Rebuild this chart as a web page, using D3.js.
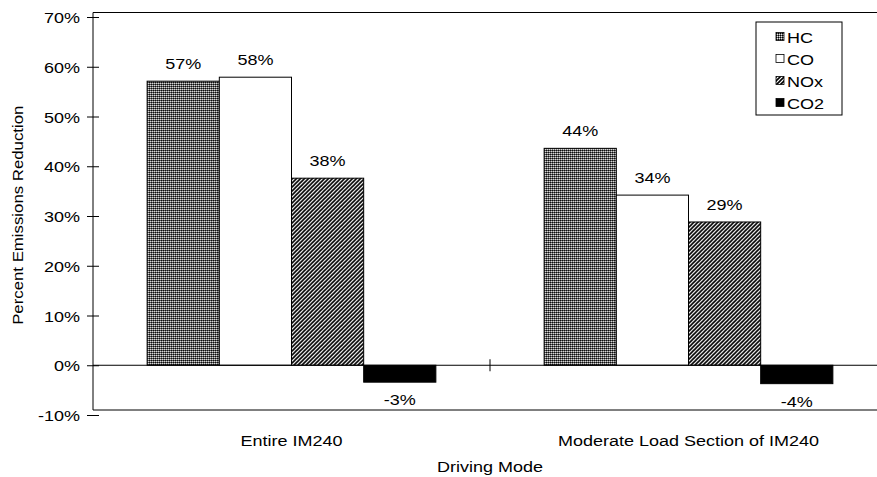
<!DOCTYPE html>
<html>
<head>
<meta charset="utf-8">
<script src="https://cdn.jsdelivr.net/npm/d3@7"></script>
<style>
  html, body { margin: 0; padding: 0; background: #fff; }
  svg { display: block; font-family: "Liberation Sans", Arial, sans-serif; }
</style>
</head>
<body>
<svg id="chart" width="877" height="477"></svg>
<script>
// Emission reductions by driving mode
const categories = ["Entire IM240", "Moderate Load Section of IM240"];
const pollutants = ["HC", "CO", "NOx", "CO2"];
const HC  = [0.571, 0.436];
const CO  = [0.579, 0.342];
const NOx = [0.376, 0.288];
const CO2 = [-0.034, -0.037];
const yTicks = [-0.1, 0, 0.1, 0.2, 0.3, 0.4, 0.5, 0.6, 0.7];
const yTitle = "Percent Emissions Reduction";
const xTitle = "Driving Mode";

const seriesValues = { HC, CO, NOx, CO2 };

const svg = d3.select("#chart");
const margin = { left: 93, top: 17, right: -10, bottom: 62 };
const W = 877, H = 477;
const FS = 15;       // font size
const SX = 1.2;      // horizontal text stretch

const pct = v => d3.format(".0%")(v).replace("\u2212", "-");

// horizontally stretched text placed at (x, y)
function stretchedText(sel, x, y, anchor) {
  sel.attr("x", 0).attr("y", 0)
    .attr("text-anchor", anchor || "middle")
    .attr("font-size", FS)
    .attr("fill", "#000")
    .attr("transform", function (d, i) {
      const xx = typeof x === "function" ? x(d, i) : x;
      const yy = typeof y === "function" ? y(d, i) : y;
      return `translate(${xx},${yy}) scale(${SX},1)`;
    });
  return sel;
}

const y = d3.scaleLinear()
  .domain([-0.1, 0.7])
  .range([H - margin.bottom, margin.top]);

const x0 = d3.scaleBand()
  .domain(categories)
  .range([margin.left, W - margin.right])
  .paddingInner(0)
  .paddingOuter(0);

// gap width of 150% of a bar between groups
const groupW = x0.bandwidth() * 4 / 5.5;
const x1 = d3.scaleBand()
  .domain(pollutants)
  .range([0, groupW]);

// fill patterns
const defs = svg.append("defs");

const dots = defs.append("pattern")
  .attr("id", "pat-hc").attr("patternUnits", "userSpaceOnUse")
  .attr("width", 2).attr("height", 2);
dots.append("rect").attr("width", 2).attr("height", 2).attr("fill", "#666");
dots.append("rect").attr("x", 0).attr("y", 0).attr("width", 1).attr("height", 1).attr("fill", "#000");
dots.append("rect").attr("x", 1).attr("y", 1).attr("width", 1).attr("height", 1).attr("fill", "#e8e8e8");

const stripes = defs.append("pattern")
  .attr("id", "pat-nox").attr("patternUnits", "userSpaceOnUse")
  .attr("width", 4).attr("height", 4);
stripes.append("rect").attr("width", 4).attr("height", 4).attr("fill", "#fff");
stripes.append("path")
  .attr("d", "M-1,1 L1,-1 M0,4 L4,0 M3,5 L5,3")
  .attr("stroke", "#000").attr("stroke-width", 1.6);

const fills = { HC: "url(#pat-hc)", CO: "#fff", NOx: "url(#pat-nox)", CO2: "#000" };

// plot frame
const frameTop = y(0.7) - 4.5;
const frameBottom = y(-0.1) - 5;
svg.append("line")
  .attr("x1", margin.left).attr("x2", W)
  .attr("y1", frameTop).attr("y2", frameTop)
  .attr("stroke", "#000").attr("stroke-width", 1);
svg.append("line")
  .attr("x1", margin.left).attr("x2", W)
  .attr("y1", frameBottom).attr("y2", frameBottom)
  .attr("stroke", "#000").attr("stroke-width", 1);

// y axis
const yAxis = svg.append("g")
  .attr("transform", `translate(${margin.left},0)`)
  .call(d3.axisLeft(y).tickValues(yTicks).tickFormat(pct)
    .tickSizeInner(5).tickSizeOuter(0).tickPadding(9));
yAxis.select(".domain").remove();
yAxis.append("line")
  .attr("x1", 0).attr("x2", 0)
  .attr("y1", frameTop).attr("y2", frameBottom)
  .attr("stroke", "#000");
yAxis.selectAll(".tick line").attr("x1", 6).attr("x2", -6).attr("stroke", "#000");
yAxis.selectAll(".tick text").each(function () {
  d3.select(this).attr("dy", null);
  stretchedText(d3.select(this), -13, 5.5, "end");
});

// bars
const groups = svg.append("g").selectAll("g")
  .data(categories)
  .join("g")
  .attr("transform", d => `translate(${x0(d) + (x0.bandwidth() - groupW) / 2},0)`);

groups.selectAll("rect")
  .data((c, i) => pollutants.map(p => ({ p, v: seriesValues[p][i] })))
  .join("rect")
  .attr("x", d => x1(d.p))
  .attr("width", x1.bandwidth())
  .attr("y", d => y(Math.max(0, d.v)))
  .attr("height", d => Math.abs(y(d.v) - y(0)))
  .attr("fill", d => fills[d.p])
  .attr("stroke", "#000")
  .attr("stroke-width", 1);

// value labels
groups.selectAll("text.val")
  .data((c, i) => pollutants.map(p => ({ p, v: seriesValues[p][i] })))
  .join("text")
  .attr("class", "val")
  .call(stretchedText,
    d => x1(d.p) + x1.bandwidth() / 2,
    d => d.v >= 0 ? y(d.v) - 12 : y(d.v) + 23)
  .text(d => pct(d.v));

// zero line with category ticks
svg.append("line")
  .attr("x1", margin.left).attr("x2", W)
  .attr("y1", y(0)).attr("y2", y(0))
  .attr("stroke", "#000");
svg.append("g")
  .attr("transform", `translate(0,${y(0)})`)
  .selectAll("line")
  .data(categories.slice(1))
  .join("line")
  .attr("x1", d => x0(d)).attr("x2", d => x0(d))
  .attr("y1", -6).attr("y2", 6)
  .attr("stroke", "#000");

// category labels
svg.append("g").selectAll("text")
  .data(categories)
  .join("text")
  .call(stretchedText, d => x0(d) + x0.bandwidth() / 2, 446)
  .text(d => d);

// axis titles
svg.append("text")
  .call(stretchedText, x0(categories[1]), 472)
  .text(xTitle);
svg.append("text")
  .attr("transform", `translate(23,${(frameTop + frameBottom) / 2 + 4}) rotate(-90) scale(1.12,1)`)
  .attr("text-anchor", "middle")
  .attr("font-size", FS)
  .text(yTitle);

// legend
const legend = svg.append("g").attr("transform", "translate(756,22)");
legend.append("rect")
  .attr("width", 86).attr("height", 93)
  .attr("fill", "#fff").attr("stroke", "#000");
const items = legend.selectAll("g.item")
  .data(pollutants)
  .join("g")
  .attr("class", "item")
  .attr("transform", (d, i) => `translate(20,${15 + i * 22})`);
items.append("rect")
  .attr("x", 0).attr("y", -4.5)
  .attr("width", 8).attr("height", 8)
  .attr("fill", d => fills[d])
  .attr("stroke", "#000").attr("stroke-width", 0.8);
items.append("text")
  .call(stretchedText, 11, 5.5, "start")
  .text(d => d);
</script>
</body>
</html>
